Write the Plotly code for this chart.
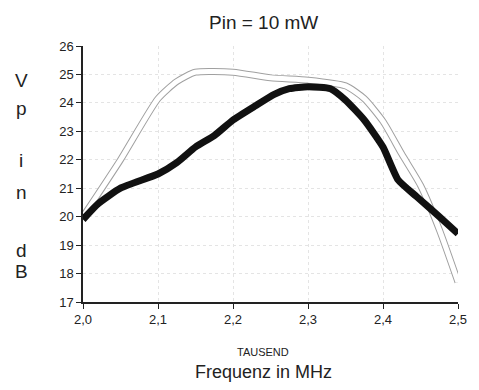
import plotly.graph_objects as go

# --- data ---
freq_ghz_a = [2.0, 2.02, 2.05, 2.1, 2.125, 2.15, 2.175, 2.2, 2.23, 2.255, 2.275,
              2.3, 2.33, 2.35, 2.375, 2.4, 2.42, 2.445, 2.475, 2.5]
vpin_a = [19.9, 20.45, 21.0, 21.5, 21.9, 22.45, 22.85, 23.4, 23.9, 24.3, 24.5,
          24.57, 24.5, 24.1, 23.4, 22.45, 21.3, 20.7, 20.0, 19.4]

freq_ghz_b = [2.0, 2.05, 2.1, 2.125, 2.15, 2.2, 2.25, 2.3, 2.35, 2.375, 2.4,
              2.425, 2.45, 2.475, 2.5]
vpin_b = [20.0, 22.0, 24.15, 24.75, 25.08, 25.08, 24.88, 24.8, 24.6, 24.15, 23.35,
          22.2, 21.1, 19.55, 17.7]

x_ticks = [2.0, 2.1, 2.2, 2.3, 2.4, 2.5]
x_tick_labels = ["2,0", "2,1", "2,2", "2,3", "2,4", "2,5"]
y_ticks = list(range(17, 27))
y_letters = ["V", "p", "i", "n", "d", "B"]
y_letter_px = [80, 108, 160, 192, 250, 271]

W, H = 479, 390
ML, MR, MT, MB = 83, 12, 46, 88
plot_h = H - MT - MB

fig = go.Figure()
# hollow line: gray outline, white core
fig.add_trace(go.Scatter(x=freq_ghz_b, y=vpin_b, mode="lines",
                         line=dict(color="#a0a0a0", width=7, shape="spline", smoothing=0.6),
                         hoverinfo="skip", showlegend=False))
fig.add_trace(go.Scatter(x=freq_ghz_b, y=vpin_b, mode="lines",
                         line=dict(color="white", width=5, shape="spline", smoothing=0.6),
                         hoverinfo="skip", showlegend=False))
fig.add_trace(go.Scatter(x=freq_ghz_a, y=vpin_a, mode="lines",
                         line=dict(color="#111111", width=7, shape="spline", smoothing=0.5),
                         showlegend=False))

font_family = "Liberation Sans, Arial, sans-serif"

annotations = [
    dict(text="Pin = 10 mW", x=0.48, y=22, xref="paper", yref="paper",
         showarrow=False, font=dict(size=19, color="#222")),
    dict(text="TAUSEND", x=0.48, y=352, xref="paper", yref="paper",
         showarrow=False, font=dict(size=11, color="#222")),
    dict(text="Frequenz in MHz", x=0.48, y=372, xref="paper", yref="paper",
         showarrow=False, font=dict(size=18, color="#222")),
]
for ch, py in zip(y_letters, y_letter_px):
    annotations.append(dict(text=ch, x=20, y=py, xref="paper", yref="paper",
                            showarrow=False, font=dict(size=19, color="#222")))

# convert pixel positions to paper coords
for a in annotations:
    a["y"] = (H - MB - a["y"]) / plot_h
    if a["x"] > 1:
        a["x"] = (a["x"] - ML) / (W - ML - MR)
    a["xanchor"] = "center"
    a["yanchor"] = "middle"

fig.update_layout(
    width=W, height=H,
    margin=dict(l=ML, r=MR, t=MT, b=MB),
    paper_bgcolor="white", plot_bgcolor="white",
    font=dict(family=font_family, color="#222"),
    annotations=annotations,
    xaxis=dict(range=[2.0, 2.5], tickvals=x_ticks, ticktext=x_tick_labels,
               showline=True, linecolor="#222", linewidth=1.5,
               ticks="outside", ticklen=5, tickcolor="#222",
               showgrid=True, gridcolor="#e4e4e4", griddash="dot", gridwidth=1,
               zeroline=False, tickfont=dict(size=13, color="#222")),
    yaxis=dict(range=[17, 26], tickvals=y_ticks,
               showline=True, linecolor="#222", linewidth=1.5,
               ticks="outside", ticklen=5, tickcolor="#222",
               showgrid=True, gridcolor="#e4e4e4", griddash="dot", gridwidth=1,
               zeroline=False, tickfont=dict(size=13, color="#222")),
)

fig.write_html("out.html")
